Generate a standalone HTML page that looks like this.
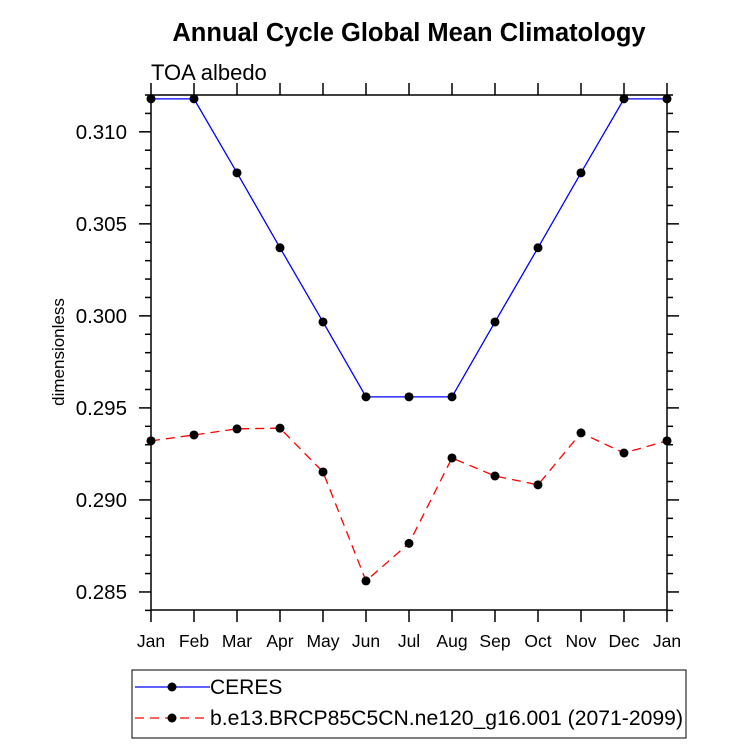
<!DOCTYPE html>
<html><head><meta charset="utf-8"><style>
body{margin:0;background:#fff;}
svg text{font-family:"Liberation Sans",sans-serif;}
</style></head><body>
<svg id="chart" width="733" height="744" xmlns="http://www.w3.org/2000/svg">
<text x="409" y="41" font-size="25.5" font-weight="bold" text-anchor="middle">Annual Cycle Global Mean Climatology</text>
<text x="151" y="80" font-size="22">TOA albedo</text>
<text transform="translate(64,352) rotate(-90)" font-size="17" text-anchor="middle">dimensionless</text>
<g id="axes"></g>
<g id="series"></g>
<rect x="151" y="95" width="516" height="515" fill="none" stroke="#000" stroke-width="1.5"/>
<g>
<rect x="132" y="670" width="554" height="68" fill="none" stroke="#000" stroke-width="1"/>
<g>
<line x1="135" y1="687" x2="210" y2="687" stroke="#0000ff" stroke-width="1.3"/>
<circle cx="172" cy="687" r="4.5" fill="#000"/>
<text x="210" y="694" font-size="21">CERES</text></g>
<g>
<line x1="135" y1="718" x2="210" y2="718" stroke="#ff0000" stroke-width="1.3" stroke-dasharray="9,6"/>
<circle cx="172" cy="718" r="4.5" fill="#000"/>
<text x="210" y="725" font-size="21" textLength="473" lengthAdjust="spacingAndGlyphs">b.e13.BRCP85C5CN.ne120_g16.001 (2071-2099)</text></g>
</g>
</svg>
<script>
const months=["Jan","Feb","Mar","Apr","May","Jun","Jul","Aug","Sep","Oct","Nov","Dec","Jan"];
const ceres=[0.31179,0.31179,0.30777,0.3037,0.29967,0.2956,0.2956,0.2956,0.29967,0.3037,0.30777,0.31179,0.31179];
const model=[0.29321,0.29353,0.29386,0.2939,0.29152,0.2856,0.28764,0.29228,0.2913,0.29082,0.29364,0.29255,0.29321];
const yTicks=[0.285,0.290,0.295,0.300,0.305,0.310];
const yTickLabels=["0.285","0.290","0.295","0.300","0.305","0.310"];
const NS="http://www.w3.org/2000/svg";
const X0=151,X1=667,Y0=610,Y1=95,ymin=0.28402,ymax=0.3120;
const xs=i=>X0+(X1-X0)*i/(months.length-1);
const ys=v=>Y0-(v-ymin)/(ymax-ymin)*(Y0-Y1);
function mk(tag,at,parent){const e=document.createElementNS(NS,tag);for(const k in at)e.setAttribute(k,at[k]);parent.appendChild(e);return e;}
const axes=document.getElementById('axes'),ser=document.getElementById('series');
months.forEach((m,i)=>{
 const x=xs(i);
 const t=mk('line',{x1:x,x2:x,y1:Y0,y2:Y0+12,stroke:'#000','stroke-width':1.5},axes);
 
 
 const t2=mk('line',{x1:x,x2:x,y1:Y1,y2:Y1-12,stroke:'#000','stroke-width':1.5},axes);
 
 
 const l=mk('text',{x:x,y:647,'font-size':17.5,'text-anchor':'middle'},axes);
 l.textContent=m;
 
 
});
for(let k=0;k<=28;k++){
 const v=0.284+k*0.001; if(v>ymax+1e-9) break;
 const y=ys(v); const major=Math.abs(v*1000-Math.round(v*200)*5)<1e-6;
 const len=major?12:6;
 const a=mk('line',{x1:X0-len,x2:X0,y1:y,y2:y,stroke:'#000','stroke-width':1.5},axes);
 
 
 const b=mk('line',{x1:X1,x2:X1+len,y1:y,y2:y,stroke:'#000','stroke-width':1.5},axes);
 
 
}
yTicks.forEach((v,i)=>{
 const l=mk('text',{x:127,y:ys(v)+7,'font-size':20.5,'text-anchor':'end'},axes);
 l.textContent=yTickLabels[i];
 
 
});
function series(vals,color,dash,name){
 const p=mk('polyline',{points:vals.map((v,i)=>xs(i)+','+ys(v)).join(' '),fill:'none',stroke:color,'stroke-width':1.3,'stroke-dasharray':dash},ser);
 
 
 vals.forEach((v,i)=>{
  const c=mk('circle',{cx:xs(i),cy:ys(v),r:4.5,fill:'#000'},ser);
  
  
 });
}
series(ceres,'#0000ff','none','ceres');
series(model,'#ff0000','9,6','model');
</script>
</body></html>
